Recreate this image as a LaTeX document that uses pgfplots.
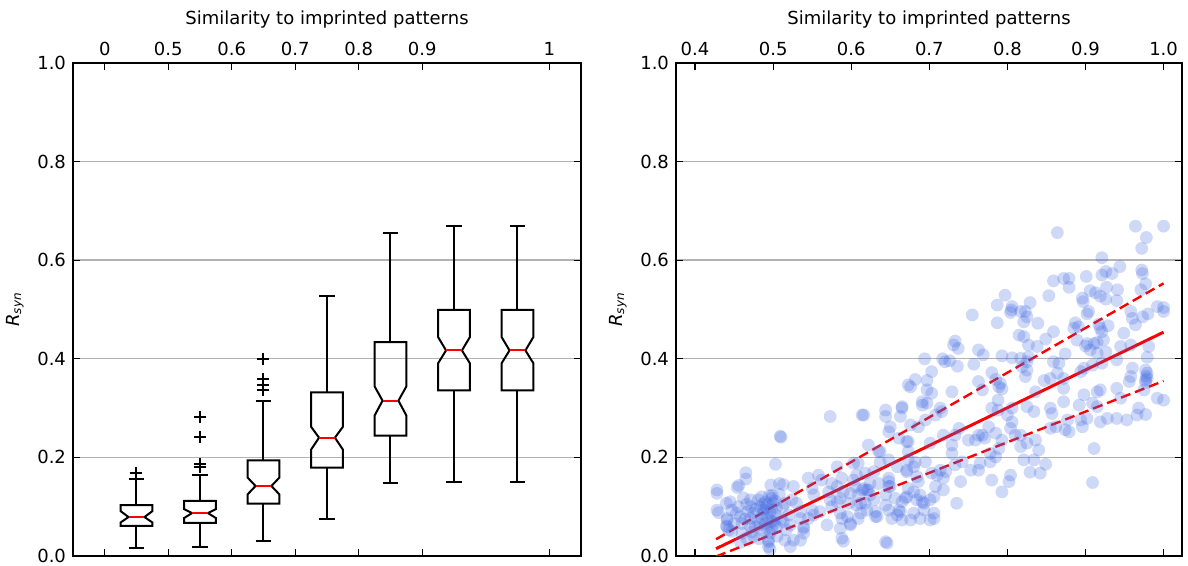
\documentclass[border=0pt]{standalone}
\usepackage{pgfplots}
\usepackage{pgfplotstable}
\usepackage{fontspec}
\setmainfont{DejaVu Sans}
\pgfplotsset{compat=1.18}
\definecolor{royal}{RGB}{65,105,225}
\newcommand\fs{\fontsize{9}{10.8}\selectfont}

\pgfplotstableread{
x y
0.428 0.134
0.428 0.127
0.428 0.093
0.430 0.088
0.440 0.107
0.441 0.076
0.440 0.061
0.443 0.053
0.447 0.093
0.441 0.073
0.441 0.059
0.447 0.050
0.454 0.139
0.456 0.143
0.465 0.169
0.465 0.156
0.453 0.087
0.458 0.080
0.460 0.066
0.460 0.046
0.471 0.114
0.471 0.100
0.475 0.087
0.471 0.076
0.477 0.059
0.473 0.049
0.481 0.114
0.483 0.100
0.488 0.093
0.486 0.076
0.490 0.066
0.492 0.056
0.496 0.046
0.494 0.032
0.494 0.019
0.496 0.014
0.494 0.029
0.498 0.117
0.500 0.107
0.498 0.093
0.503 0.083
0.500 0.070
0.505 0.059
0.498 0.056
0.485 0.120
0.490 0.110
0.495 0.122
0.502 0.112
0.487 0.086
0.493 0.080
0.497 0.070
0.491 0.098
0.504 0.098
0.496 0.088
0.483 0.064
0.489 0.050
0.478 0.095
0.480 0.072
0.502 0.066
0.499 0.123
0.493 0.105
0.486 0.105
0.466 0.105
0.462 0.118
0.468 0.090
0.464 0.075
0.455 0.100
0.450 0.065
0.445 0.110
0.470 0.062
0.475 0.040
0.482 0.035
0.466 0.036
0.458 0.028
0.510 0.075
0.512 0.100
0.508 0.125
0.505 0.040
0.503 0.186
0.509 0.243
0.508 0.147
0.497 0.144
0.513 0.145
0.515 0.107
0.520 0.083
0.513 0.070
0.517 0.053
0.522 0.019
0.526 0.032
0.526 0.141
0.530 0.107
0.535 0.076
0.539 0.059
0.539 0.046
0.550 0.093
0.552 0.083
0.552 0.124
0.562 0.154
0.524 0.114
0.535 0.090
0.545 0.076
0.539 0.056
0.522 0.063
0.515 0.032
0.535 0.032
0.545 0.158
0.558 0.164
0.550 0.137
0.575 0.147
0.582 0.141
0.590 0.130
0.586 0.117
0.573 0.114
0.575 0.100
0.586 0.087
0.595 0.080
0.586 0.056
0.599 0.066
0.569 0.063
0.588 0.036
0.590 0.030
0.560 0.090
0.582 0.110
0.597 0.107
0.599 0.127
0.588 0.076
0.599 0.063
0.582 0.181
0.588 0.158
0.571 0.130
0.603 0.188
0.573 0.283
0.510 0.241
0.603 0.154
0.605 0.141
0.614 0.134
0.620 0.134
0.624 0.124
0.612 0.107
0.620 0.093
0.629 0.114
0.631 0.080
0.644 0.029
0.646 0.026
0.614 0.286
0.644 0.296
0.644 0.283
0.650 0.262
0.665 0.303
0.663 0.283
0.676 0.266
0.637 0.212
0.648 0.195
0.659 0.181
0.671 0.232
0.673 0.212
0.648 0.158
0.650 0.141
0.629 0.171
0.671 0.174
0.684 0.161
0.680 0.181
0.671 0.120
0.684 0.114
0.693 0.107
0.701 0.114
0.706 0.120
0.680 0.087
0.688 0.076
0.701 0.073
0.706 0.087
0.663 0.090
0.659 0.083
0.652 0.076
0.691 0.306
0.676 0.343
0.697 0.337
0.703 0.330
0.616 0.286
0.665 0.300
0.691 0.313
0.697 0.310
0.708 0.286
0.716 0.293
0.714 0.300
0.648 0.252
0.686 0.262
0.695 0.276
0.661 0.239
0.673 0.232
0.622 0.225
0.635 0.212
0.609 0.188
0.637 0.190
0.673 0.195
0.682 0.190
0.695 0.191
0.701 0.229
0.718 0.245
0.729 0.225
0.733 0.245
0.738 0.259
0.750 0.235
0.759 0.235
0.742 0.191
0.729 0.208
0.763 0.245
0.776 0.262
0.768 0.245
0.771 0.239
0.785 0.249
0.793 0.235
0.804 0.259
0.806 0.272
0.810 0.245
0.780 0.300
0.788 0.316
0.788 0.296
0.768 0.337
0.789 0.343
0.793 0.339
0.729 0.333
0.800 0.286
0.806 0.300
0.789 0.218
0.785 0.201
0.778 0.208
0.778 0.191
0.765 0.188
0.714 0.174
0.718 0.158
0.721 0.171
0.703 0.168
0.710 0.164
0.733 0.185
0.740 0.151
0.753 0.174
0.763 0.174
0.718 0.134
0.780 0.154
0.793 0.130
0.802 0.151
0.804 0.164
0.735 0.107
0.706 0.076
0.686 0.151
0.680 0.130
0.688 0.124
0.673 0.137
0.669 0.117
0.665 0.110
0.691 0.110
0.693 0.093
0.676 0.073
0.665 0.073
0.661 0.093
0.648 0.093
0.648 0.151
0.648 0.141
0.656 0.117
0.644 0.124
0.631 0.090
0.633 0.080
0.644 0.103
0.609 0.124
0.616 0.137
0.622 0.134
0.624 0.147
0.609 0.076
0.612 0.087
0.618 0.107
0.607 0.103
0.635 0.147
0.618 0.168
0.607 0.164
0.671 0.171
0.708 0.141
0.909 0.149
0.911 0.218
0.829 0.170
0.842 0.168
0.849 0.186
0.834 0.195
0.821 0.195
0.825 0.229
0.840 0.215
0.836 0.235
0.817 0.245
0.817 0.222
0.855 0.259
0.862 0.262
0.877 0.276
0.874 0.256
0.879 0.252
0.896 0.262
0.894 0.276
0.902 0.279
0.919 0.272
0.928 0.279
0.940 0.279
0.953 0.276
0.966 0.286
0.977 0.287
0.968 0.300
0.992 0.320
1.000 0.316
0.855 0.300
0.857 0.289
0.872 0.313
0.892 0.306
0.909 0.310
0.915 0.303
0.915 0.333
0.919 0.337
0.940 0.340
0.945 0.320
0.872 0.340
0.898 0.327
0.836 0.333
0.825 0.303
0.834 0.293
0.975 0.337
0.979 0.371
0.977 0.357
0.977 0.352
0.864 0.656
0.964 0.669
1.000 0.669
0.978 0.646
0.972 0.624
0.921 0.605
0.921 0.570
0.926 0.577
0.934 0.573
0.944 0.587
0.972 0.580
0.973 0.573
0.977 0.552
0.971 0.540
0.872 0.563
0.879 0.563
0.879 0.545
0.859 0.558
0.853 0.528
0.901 0.567
0.906 0.538
0.913 0.534
0.919 0.527
0.927 0.545
0.926 0.521
0.941 0.540
0.940 0.518
0.896 0.523
0.897 0.516
0.829 0.514
0.823 0.496
0.825 0.485
0.817 0.496
0.821 0.475
0.839 0.472
0.904 0.496
0.902 0.491
0.887 0.473
0.885 0.462
0.891 0.465
0.859 0.455
0.849 0.440
0.838 0.425
0.827 0.428
0.821 0.445
0.917 0.470
0.919 0.462
0.929 0.467
0.921 0.455
0.889 0.438
0.902 0.431
0.900 0.426
0.911 0.431
0.915 0.433
0.923 0.438
0.949 0.452
0.958 0.496
0.960 0.482
0.964 0.469
0.973 0.485
0.980 0.491
0.992 0.506
1.000 0.504
1.000 0.496
0.981 0.425
0.979 0.403
0.958 0.428
0.906 0.418
0.915 0.411
0.926 0.414
0.874 0.410
0.859 0.394
0.817 0.401
0.825 0.394
0.827 0.404
0.945 0.425
0.940 0.398
0.921 0.391
0.909 0.387
0.898 0.381
0.894 0.374
0.866 0.391
0.864 0.371
0.960 0.381
0.977 0.377
0.978 0.365
0.979 0.360
0.956 0.354
0.958 0.364
0.823 0.364
0.825 0.377
0.819 0.384
0.847 0.356
0.855 0.360
0.872 0.360
0.797 0.529
0.787 0.509
0.806 0.506
0.805 0.499
0.804 0.494
0.787 0.473
0.755 0.489
0.815 0.448
0.733 0.436
0.731 0.428
0.737 0.421
0.763 0.418
0.769 0.408
0.793 0.406
0.806 0.402
0.694 0.400
0.717 0.400
0.720 0.394
0.726 0.396
0.736 0.385
0.757 0.389
0.703 0.374
0.682 0.358
0.697 0.356
0.780 0.372
0.785 0.358
0.791 0.350
0.763 0.354
0.673 0.347
}\scatterdata

% notched box: pos, lower whisker, q1, notch low, median, notch high, q3, upper whisker
\newcommand\nbox[8]{%
  \pgfmathsetmacro\xl{#1-0.25}\pgfmathsetmacro\xr{#1+0.25}%
  \pgfmathsetmacro\xnl{#1-0.125}\pgfmathsetmacro\xnr{#1+0.125}%
  \edef\tmp{\noexpand\addplot[black, line width=1pt, line join=miter] coordinates {(\xl,#3) (\xl,#4) (\xnl,#5) (\xl,#6) (\xl,#7) (\xr,#7) (\xr,#6) (\xnr,#5) (\xr,#4) (\xr,#3)} --cycle;}\tmp
  \edef\tmp{\noexpand\addplot[black, line width=1pt] coordinates {(#1,#7) (#1,#8)};}\tmp
  \edef\tmp{\noexpand\addplot[black, line width=1pt] coordinates {(#1,#3) (#1,#2)};}\tmp
  \edef\tmp{\noexpand\addplot[black, line width=1pt] coordinates {(\xnl,#8) (\xnr,#8)};}\tmp
  \edef\tmp{\noexpand\addplot[black, line width=1pt] coordinates {(\xnl,#2) (\xnr,#2)};}\tmp
  \edef\tmp{\noexpand\addplot[red, line width=1pt] coordinates {(\xnl,#5) (\xnr,#5)};}\tmp
}

\pgfplotsset{
  common/.style={
    scale only axis, anchor=south west,
    width=254pt, height=246.5pt,
    ymin=0, ymax=1,
    ytick={0,0.2,0.4,0.6,0.8,1.0},
    yticklabel style={/pgf/number format/fixed, /pgf/number format/fixed zerofill, /pgf/number format/precision=1},
    /pgf/number format/assume math mode=true,
    tick label style={font=\fs},
    label style={font=\fs},
    xticklabel pos=right,
    tick align=inside,
    major tick length=3.5pt,
    tick style={black, line width=0.6pt},
    axis line style={line width=0.8pt},
    ymajorgrids,
    major grid style={black!30, line width=0.7pt},
    xlabel={Similarity to imprinted patterns},
    ylabel={\textit{R}\textsubscript{\textit{syn}}},
    clip=true,
  }
}

\begin{document}
\begin{tikzpicture}
\useasboundingbox (0,0) rectangle (594pt,283pt);
\begin{axis}[common, at={(36.5pt,5pt)},
  xmin=0, xmax=8,
  xtick={0.5,1.5,2.5,3.5,4.5,5.5,7.5},
  xticklabels={0,0.5,0.6,0.7,0.8,0.9,1},
]
\nbox{1}{0.016}{0.061}{0.068}{0.079}{0.091}{0.103}{0.156}
\nbox{2}{0.018}{0.067}{0.077}{0.087}{0.095}{0.112}{0.164}
\nbox{3}{0.030}{0.106}{0.125}{0.142}{0.159}{0.194}{0.315}
\nbox{4}{0.076}{0.179}{0.216}{0.240}{0.262}{0.332}{0.527}
\nbox{5}{0.148}{0.244}{0.285}{0.315}{0.344}{0.434}{0.655}
\nbox{6}{0.150}{0.336}{0.391}{0.417}{0.444}{0.499}{0.669}
\nbox{7}{0.150}{0.336}{0.391}{0.417}{0.444}{0.499}{0.669}
\addplot[only marks, mark=+, mark size=3pt, mark options={black, line width=1pt}] coordinates {
 (1,0.169) (2,0.282) (2,0.242) (2,0.186) (2,0.181) (3,0.399) (3,0.358) (3,0.347) (3,0.337)};
\end{axis}

\begin{axis}[common, at={(338pt,5pt)}, width=253pt,
  xmin=0.3756, xmax=1.0236,
  xtick={0.4,0.5,0.6,0.7,0.8,0.9,1.0},
  xticklabel style={/pgf/number format/fixed, /pgf/number format/fixed zerofill, /pgf/number format/precision=1},
]
\addplot[only marks, mark=*, mark size=3.2pt, color=royal, draw opacity=0, fill opacity=0.26, mark options={draw=royal, fill=royal, draw opacity=0, fill opacity=0.26}] table[x=x, y=y] {\scatterdata};
\addplot[red, line width=1.5pt] coordinates {(0.4269,0.0148) (1.0,0.454)};
\addplot[red, line width=1.2pt, dash pattern=on 5pt off 2.5pt] coordinates {(0.4269,0.034) (1.0,0.553)};
\addplot[red, line width=1.2pt, dash pattern=on 5pt off 2.5pt] coordinates {(0.4269,-0.001) (1.0,0.355)};
\end{axis}
\end{tikzpicture}
\end{document}
